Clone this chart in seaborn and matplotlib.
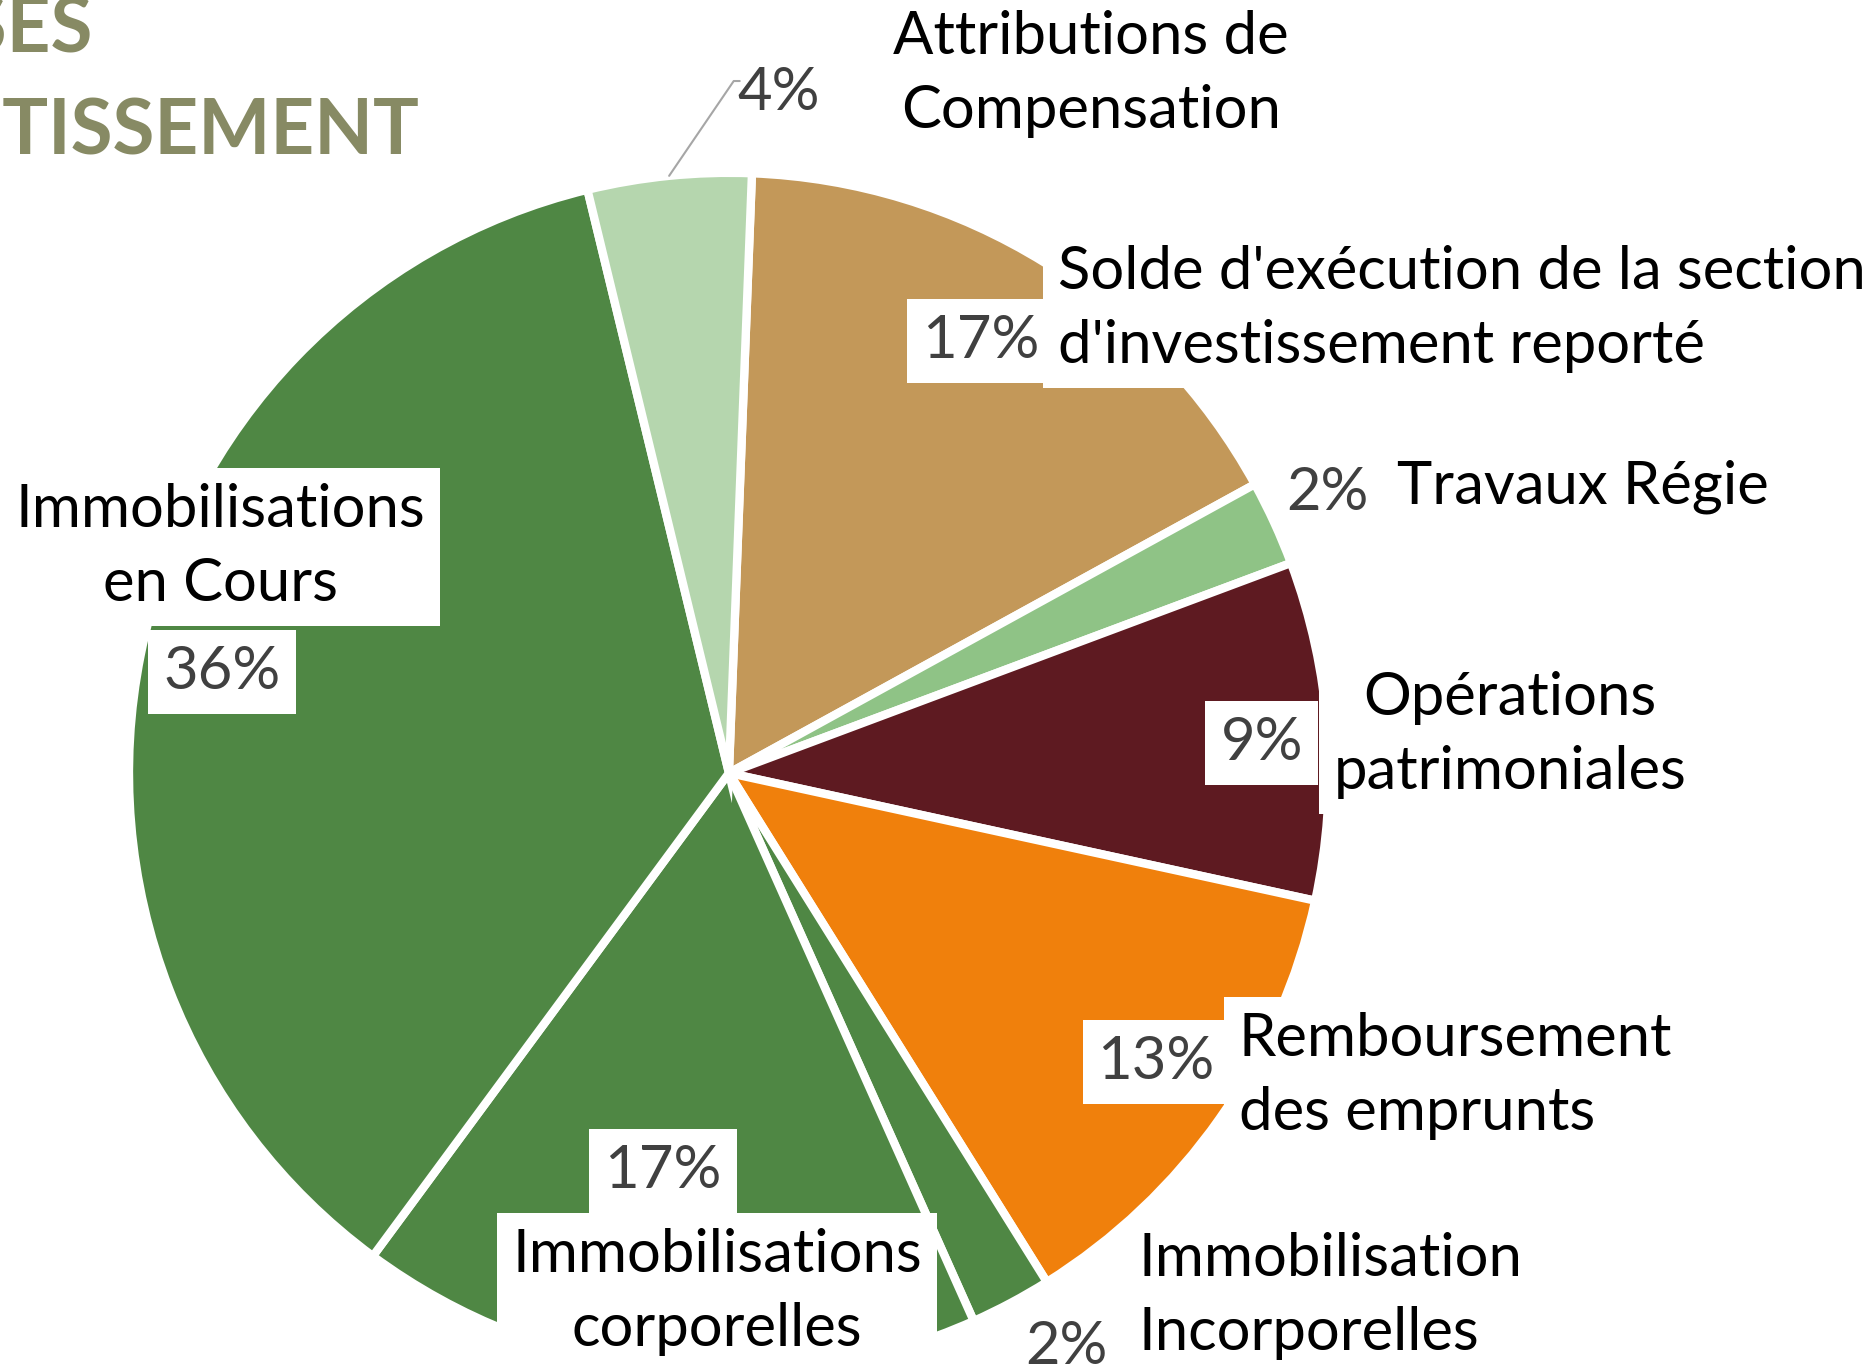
import matplotlib
matplotlib.use("Agg")
import matplotlib.pyplot as plt
import seaborn as sns
import numpy as np

# =========================
# DATA
# =========================
categories = [
    "Solde d'exécution de la section\nd'investissement reporté",
    "Travaux Régie",
    "Opérations\npatrimoniales",
    "Remboursement\ndes emprunts",
    "Immobilisation\nIncorporelles",
    "Immobilisations\ncorporelles",
    "Immobilisations\nen Cours",
    "Attributions de\nCompensation",
]
shares = [16.4, 2.3, 9.1, 12.7, 2.2, 16.8, 36.1, 4.4]
pct_labels = ["17%", "2%", "9%", "13%", "2%", "17%", "36%", "4%"]
colors = ["#C39859", "#8FC386", "#5E1A21", "#F0800C",
          "#4F8744", "#4F8744", "#4F8744", "#B5D6AE"]

# =========================
# LABEL LAYOUT (data units, pie radius = 1)
# =========================
# (pct x, pct y, name x, name y, name ha, boxed)
layout = [
    (0.42, 0.72, 0.548, 0.773, "left", True),
    (0.998, 0.467, 1.113, 0.477, "left", False),
    (0.888, 0.05, 1.302, 0.063, "center", True),
    (0.712, -0.482, 0.85, -0.505, "left", True),
    (0.562, -0.957, 0.682, -0.872, "left", False),
    (-0.11, -0.663, -0.02, -0.865, "center", True),
    (-0.845, 0.168, -0.848, 0.377, "center", True),
    (0.083, 1.133, 0.603, 1.165, "center", False),
]

sns.set_theme(style="white")
plt.rcParams["font.family"] = ["Lato", "DejaVu Sans"]

fig = plt.figure(figsize=(18.64, 13.69), dpi=100)
ax = fig.add_axes([0, 0, 1, 1])

wedges, _ = ax.pie(
    shares,
    colors=colors,
    startangle=87.8,
    counterclock=False,
    radius=1.0,
    wedgeprops=dict(edgecolor="white", linewidth=6),
)
# pie() resets the limits, so set them afterwards
ax.set_xlim(-1.215, 1.892)
ax.set_ylim(-0.993, 1.288)
ax.set_aspect("auto")
ax.axis("off")

fs = 43
box = dict(boxstyle="square,pad=0.25", facecolor="white", edgecolor="none")
for w, name, pct, (px, py, nx, ny, ha, boxed) in zip(wedges, categories, pct_labels, layout):
    ax.text(px, py, pct, fontsize=fs, color="#404040", ha="center", va="center",
            bbox=box if boxed else None)
    ax.text(nx, ny, name, fontsize=fs, color="black", ha=ha, va="center",
            multialignment=ha, linespacing=1.45, bbox=box if boxed else None)

# leader line for the small top slice
w = wedges[-1]
mid = np.deg2rad((w.theta1 + w.theta2) / 2)
x0, y0 = np.cos(mid), np.sin(mid)
px, py = layout[-1][0], layout[-1][1]
ax.plot([x0, px - 0.075, px - 0.065], [y0, py + 0.02, py + 0.02],
        color="#A6A6A6", lw=1.5, clip_on=False)

# title (partly outside the canvas)
title_color = "#878A64"
ax.text(-1.06, 1.2, "DÉPENSES", fontsize=55, fontweight="bold",
        color=title_color, ha="right", va="baseline")
ax.text(-0.515, 1.03, "D'INVESTISSEMENT", fontsize=55, fontweight="bold",
        color=title_color, ha="right", va="baseline")

fig.savefig("out.png", dpi=100)
